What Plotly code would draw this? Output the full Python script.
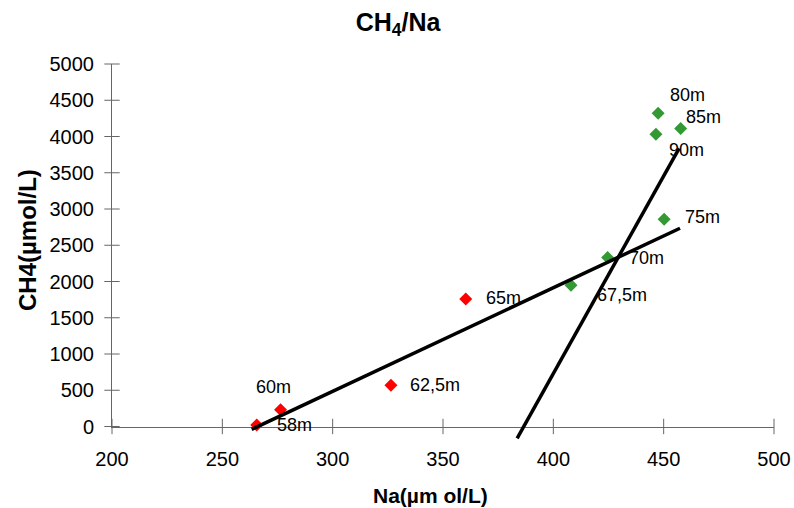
import plotly.graph_objects as go

# ---- data ----
depth_labels = ["58m", "60m", "62,5m", "65m", "67,5m", "70m", "75m", "80m", "85m", "90m"]
na_values = [265.6, 276.4, 326.4, 360.3, 408.0, 424.6, 450.2, 447.5, 457.7, 446.5]
ch4_values = [20, 230, 570, 1760, 1950, 2330, 2860, 4320, 4110, 4030]
point_groups = ["red", "red", "red", "red", "green", "green", "green", "green", "green", "green"]

line1_na = [263.3, 457.4]
line1_ch4 = [-39, 2734]
line2_na = [383.6, 457.0]
line2_ch4 = [-163, 3837]

x_ticks = [200, 250, 300, 350, 400, 450, 500]
y_ticks = [0, 500, 1000, 1500, 2000, 2500, 3000, 3500, 4000, 4500, 5000]

# ---- styling / layout ----
W, H = 794, 508
ML, MR, MT, MB = 112, 20, 64, 60
plot_h = H - MT - MB           # 384
axis_px = 426.5                # pixel row of y = 0
y_dom0 = (H - MB - axis_px) / plot_h
units_per_px = 5000 / (axis_px - MT)
y2_min = -(H - MB - axis_px) * units_per_px

FONT = "Liberation Sans, Arial, sans-serif"
AXIS_COLOR = "#666666"
colors = {"red": "#ff0000", "green": "#339933"}

# label offsets (pixels) for each depth label
label_dx = [18, -27, 17, 18, 24, 19, 19, 10, 3, 11]
label_dy = [0, 23, 0, 1, -10, 0, 2, 18, 12, -16]

fig = go.Figure()

for grp in ["red", "green"]:
    xs = [x for x, g in zip(na_values, point_groups) if g == grp]
    ys = [y for y, g in zip(ch4_values, point_groups) if g == grp]
    fig.add_trace(go.Scatter(
        x=xs, y=ys, mode="markers",
        marker=dict(symbol="diamond", size=10, color=colors[grp], line=dict(width=0)),
        cliponaxis=False, showlegend=False, hoverinfo="x+y"))

# crossing tick marks
fig.add_trace(go.Scatter(
    x=x_ticks, y=[0] * len(x_ticks), mode="markers",
    marker=dict(symbol="line-ns", size=11, line=dict(color=AXIS_COLOR, width=1)),
    cliponaxis=False, showlegend=False, hoverinfo="skip"))
fig.add_trace(go.Scatter(
    x=[200] * len(y_ticks), y=y_ticks, mode="markers",
    marker=dict(symbol="line-ew", size=11, line=dict(color=AXIS_COLOR, width=1)),
    cliponaxis=False, showlegend=False, hoverinfo="skip"))

for lx, ly in [(line1_na, line1_ch4), (line2_na, line2_ch4)]:
    fig.add_trace(go.Scatter(
        x=lx, y=ly, mode="lines", yaxis="y2",
        line=dict(color="black", width=3.5),
        showlegend=False, hoverinfo="skip"))

annotations = []
for txt, x, y, dx, dy in zip(depth_labels, na_values, ch4_values, label_dx, label_dy):
    annotations.append(dict(
        x=x, y=y, xref="x", yref="y", text=txt, showarrow=False,
        xanchor="left", yanchor="middle", xshift=dx, yshift=dy,
        font=dict(family=FONT, size=18, color="black")))

annotations.append(dict(
    x=(430.5 - ML) / (W - ML - MR), y=(H - MB - 495) / plot_h,
    xref="paper", yref="paper", text="<b>Na(µm ol/L)</b>", showarrow=False,
    xanchor="center", yanchor="middle",
    font=dict(family=FONT, size=21, color="black")))
annotations.append(dict(
    x=(27 - ML) / (W - ML - MR), y=(H - MB - 240) / plot_h,
    xref="paper", yref="paper", text="<b>CH4(µmol/L)</b>", showarrow=False,
    textangle=-90, xanchor="center", yanchor="middle",
    font=dict(family=FONT, size=24, color="black")))

fig.update_layout(
    width=W, height=H,
    margin=dict(l=ML, r=MR, t=MT, b=MB, pad=0, autoexpand=False),
    paper_bgcolor="white", plot_bgcolor="rgba(0,0,0,0)",
    title=dict(text="<b>CH<sub>4</sub>/Na</b>", x=398 / W, y=1 - 22 / H,
               xanchor="center", yanchor="middle",
               font=dict(family=FONT, size=25, color="black")),
    xaxis=dict(range=[200, 500], tickvals=x_ticks, showgrid=False, zeroline=False,
               showline=True, linecolor=AXIS_COLOR, linewidth=1, ticks="",
               anchor="y", ticklabelstandoff=14, automargin=False,
               tickfont=dict(family=FONT, size=20, color="black")),
    yaxis=dict(range=[0, 5000], domain=[y_dom0, 1], tickvals=y_ticks, showgrid=False,
               zeroline=False, showline=True, linecolor=AXIS_COLOR, linewidth=1,
               ticks="", ticklabelstandoff=13, automargin=False,
               tickfont=dict(family=FONT, size=20, color="black")),
    yaxis2=dict(range=[y2_min, 5000], domain=[0, 1], anchor="x", visible=False,
                showgrid=False, zeroline=False, automargin=False),
    annotations=annotations,
)

fig.write_html("out.html", config={"displayModeBar": False},
               post_script="document.body.style.margin='0';")
